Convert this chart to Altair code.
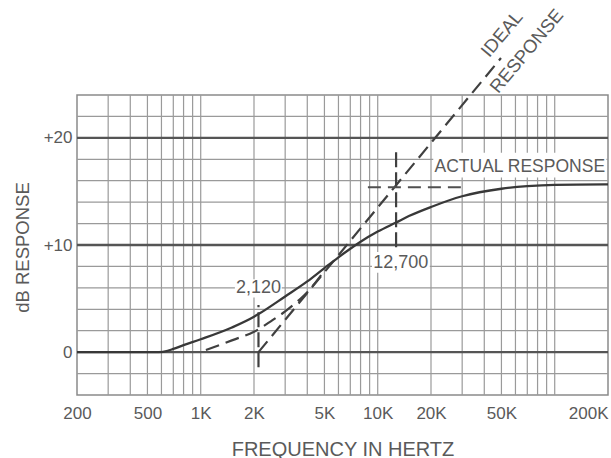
import altair as alt
import pandas as pd

FONT = "Liberation Sans, Arial, sans-serif"
TXT = "#5a5a5a"

# axis ticks
x_tick_vals = [200, 500, 1000, 2000, 5000, 10000, 20000, 50000, 200000]
x_tick_labels = ["200", "500", "1K", "2K", "5K", "10K", "20K", "50K", "200K"]
y_tick_vals = [0, 10, 20]
y_tick_labels = ["0", "+10", "+20"]

# chart-paper grid
grid_freq = [300, 400, 500, 600, 700, 800, 900, 1000,
             2000, 3000, 4000, 5000, 6000, 7000, 8000, 9000, 10000,
             20000, 30000, 40000, 50000, 60000, 70000, 80000, 90000, 100000]
grid_db_light = [-2, 2, 4, 6, 8, 12, 14, 16, 18, 22]
grid_db_heavy = [0, 10, 20]

# actual response (solid)
actual_freq = [200, 580, 650, 700, 800, 1000, 1500, 2000, 2120, 3000, 4000, 5000, 6000,
               7000, 8000, 10000, 12700, 15000, 20000, 30000, 50000, 70000, 100000, 200000]
actual_db = [0, 0, 0.12, 0.3, 0.65, 1.2, 2.3, 3.3, 3.55, 5.2, 6.6, 7.85, 8.85,
             9.65, 10.3, 11.25, 12.1, 12.7, 13.55, 14.55, 15.25, 15.5, 15.62, 15.65]

# ideal response asymptote (dashed)
ideal_freq = [2120, 49700]
ideal_db = [0, 27.45]

# lower dashed knee curve
knee_freq = [1070, 1500, 2000, 2500, 3000, 3500, 4000, 4500, 5000]
knee_db = [0.2, 1.1, 1.9, 2.9, 3.8, 4.7, 5.6, 6.6, 7.6]

# corner-frequency markers
marker_freq = [2120, 12700]
marker_db_low = [-1.4, 9.8]
marker_db_high = [4.4, 18.9]
hline_db = [15.4]
hline_f1 = [8800]
hline_f2 = [31900]

# annotations
label_text = ["2,120", "12,700", "ACTUAL RESPONSE"]
label_freq = [2120, 13500, 63500]
label_db = [6.0, 8.35, 17.3]
label_size = [18, 18, 17.5]
box_f1 = [1560, 9280, 20600]
box_f2 = [2870, 19700, 196000]
box_db1 = [5.1, 7.4, 16.3]
box_db2 = [6.8, 9.35, 18.6]

ideal_label_text = ["IDEAL", "RESPONSE"]
ideal_label_freq = [50300, 69400]
ideal_label_db = [29.7, 28.1]

# ---------------------------------------------------------------
xs = alt.Scale(type="log", domain=[200, 200000], nice=False)
ys = alt.Scale(domain=[-4, 24], nice=False, zero=False)

xlab_expr = " : ".join(
    f"datum.value == {v} ? '{t}'" for v, t in zip(x_tick_vals, x_tick_labels)
) + " : ''"
ylab_expr = " : ".join(
    f"datum.value == {v} ? '{t}'" for v, t in zip(y_tick_vals, y_tick_labels)
) + " : ''"

x_axis = alt.Axis(
    values=x_tick_vals, labelExpr=xlab_expr, grid=False, ticks=False, domain=False,
    labelFont=FONT, labelFontSize=17, labelColor=TXT, labelPadding=23,
    labelBaseline="alphabetic", labelFlush=False, labelOverlap=False, labelBound=False,
    labelAlign={"condition": {"test": "datum.value >= 200000", "value": "right"}, "value": "center"},
    title="FREQUENCY IN HERTZ", titleFont=FONT, titleFontSize=20, titleFontWeight="normal",
    titleColor=TXT, titleBaseline="alphabetic", titleY=60,
)
y_axis = alt.Axis(
    values=y_tick_vals, labelExpr=ylab_expr, grid=False, ticks=False, domain=False,
    labelFont=FONT, labelFontSize=17, labelColor=TXT, labelPadding=5,
    labelAlign="right", labelBaseline="middle", labelOverlap=False, labelBound=False,
    labelFlush=False,
    title="dB RESPONSE", titleFont=FONT, titleFontSize=18.5, titleFontWeight="normal",
    titleColor=TXT, titleAngle=270, titleBaseline="middle", titleX=-55, titleY=152,
)

def X(field, **kw):
    return alt.X(field, type="quantitative", scale=xs, axis=x_axis, **kw)

def Y(field, **kw):
    return alt.Y(field, type="quantitative", scale=ys, axis=y_axis, **kw)

vgrid = alt.Chart(pd.DataFrame({"f": grid_freq})).mark_rule(
    color="#9a9a9a", strokeWidth=1.2).encode(x=X("f"))
hgrid = alt.Chart(pd.DataFrame({"db": grid_db_light})).mark_rule(
    color="#9a9a9a", strokeWidth=1.2).encode(y=Y("db"))
hgrid_heavy = alt.Chart(pd.DataFrame({"db": grid_db_heavy})).mark_rule(
    color="#555555", strokeWidth=2.4).encode(y=Y("db"))

boxes = alt.Chart(pd.DataFrame({
    "f1": box_f1, "f2": box_f2, "d1": box_db1, "d2": box_db2
})).mark_rect(color="white").encode(
    x=X("f1"), x2="f2", y=Y("d1"), y2="d2")

dash = [14, 7]
actual = alt.Chart(pd.DataFrame({"f": actual_freq, "db": actual_db})).mark_line(
    color="#383838", strokeWidth=2.3, interpolate="monotone").encode(x=X("f"), y=Y("db"))
ideal = alt.Chart(pd.DataFrame({"f": ideal_freq, "db": ideal_db})).mark_line(
    color="#404040", strokeWidth=2.2, strokeDash=dash).encode(x=X("f"), y=Y("db"))
knee = alt.Chart(pd.DataFrame({"f": knee_freq, "db": knee_db})).mark_line(
    color="#404040", strokeWidth=2.2, strokeDash=dash, interpolate="monotone").encode(
    x=X("f"), y=Y("db"))
markers = alt.Chart(pd.DataFrame({
    "f": marker_freq, "lo": marker_db_low, "hi": marker_db_high
})).mark_rule(color="#404040", strokeWidth=2.2, strokeDash=[15, 5]).encode(
    x=X("f"), y=Y("lo"), y2="hi")
hline = alt.Chart(pd.DataFrame({
    "f1": hline_f1, "f2": hline_f2, "db": hline_db
})).mark_rule(color="#505050", strokeWidth=2, strokeDash=[13, 7]).encode(
    x=X("f1"), x2="f2", y=Y("db"))

labels = alt.Chart(pd.DataFrame({
    "f": label_freq, "db": label_db, "t": label_text, "s": label_size
})).mark_text(font=FONT, color=TXT, align="center", baseline="middle").encode(
    x=X("f"), y=Y("db"), text="t:N",
    size=alt.Size("s:Q", scale=None, legend=None))

ideal_labels = alt.Chart(pd.DataFrame({
    "f": ideal_label_freq, "db": ideal_label_db, "t": ideal_label_text
})).mark_text(font=FONT, color=TXT, fontSize=18.5, angle=310, align="center",
              baseline="middle").encode(x=X("f"), y=Y("db"), text="t:N")

chart = alt.layer(
    vgrid, hgrid, hgrid_heavy, boxes, knee, ideal, markers, hline, actual,
    labels, ideal_labels
).properties(
    width=531, height=300,
    autosize=alt.AutoSizeParams(type="none"),
    padding={"left": 77, "top": 95, "right": 3, "bottom": 63},
    background="white",
).configure_view(stroke="#8a8a8a", strokeWidth=1.5)

chart.save("out.html", embed_options={"renderer": "svg", "actions": False})
